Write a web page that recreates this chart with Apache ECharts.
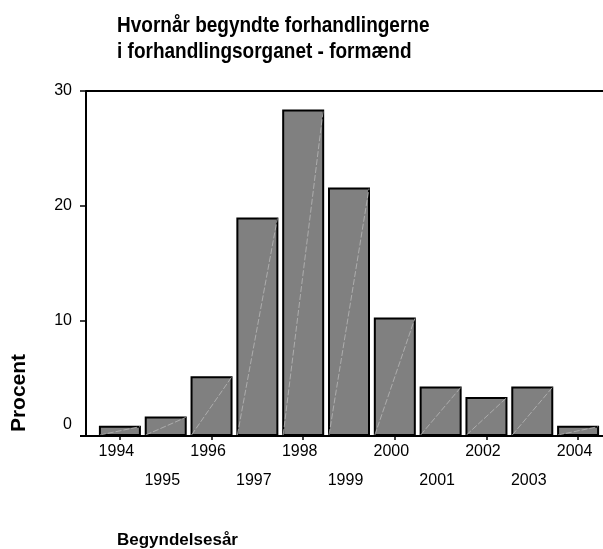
<!DOCTYPE html>
<html>
<head>
<meta charset="utf-8">
<script src="https://cdn.jsdelivr.net/npm/echarts@6/dist/echarts.min.js"></script>
<style>
html,body{margin:0;padding:0;background:#fff;}
#chart{width:603px;height:549px;}
</style>
</head>
<body>
<div id="chart"></div>
<script>
var years = ['1994','1995','1996','1997','1998','1999','2000','2001','2002','2003','2004'];
var percent = [0.9, 1.7, 5.2, 19.0, 28.4, 21.6, 10.3, 4.3, 3.4, 4.3, 0.9];
var yTicks = [0, 10, 20, 30];
var titleLines = ['Hvornår begyndte forhandlingerne', 'i forhandlingsorganet - formænd'];
var yName = 'Procent';
var xName = 'Begyndelsesår';

var FONT = 'Liberation Sans, Arial, sans-serif';
var chart = echarts.init(document.getElementById('chart'), null, {renderer: 'canvas'});

var option = {
  animation: false,
  backgroundColor: '#ffffff',
  grid: {left: 97, right: 2, top: 91, bottom: 113, containLabel: false},
  xAxis: [{
    type: 'category', data: years, position: 'bottom',
    axisLine: {show: false},
    axisTick: {show: true, alignWithLabel: true, length: 4, lineStyle: {color: '#000', width: 1.5}},
    axisLabel: {
      interval: function (i) { return i % 2 === 0; },
      margin: 8, fontFamily: FONT, fontSize: 16, color: '#000', padding: [0, 7, 0, 0]
    },
    splitLine: {show: false}
  }, {
    type: 'category', data: years, position: 'bottom',
    axisLine: {show: false}, axisTick: {show: false},
    axisLabel: {
      interval: function (i) { return i % 2 === 1; },
      margin: 37, fontFamily: FONT, fontSize: 16, color: '#000', padding: [0, 7, 0, 0]
    },
    splitLine: {show: false}
  }],
  yAxis: {
    type: 'value', min: yTicks[0], max: yTicks[yTicks.length - 1], interval: 10, offset: 11,
    axisLine: {show: true, lineStyle: {color: '#000', width: 2}},
    axisTick: {show: true, length: 6, lineStyle: {color: '#000', width: 1.5}},
    axisLabel: {
      margin: 14, fontFamily: FONT, fontSize: 16, color: '#000',
      formatter: function (v) { return v === 0 ? '{z|0}' : String(v); },
      rich: {z: {fontFamily: FONT, fontSize: 16, color: '#000', padding: [0, 0, 22, 0]}}
    },
    splitLine: {show: false}
  },
  series: [{
    type: 'bar', data: percent, xAxisIndex: 0, barWidth: 42,
    itemStyle: {color: '#808080', borderColor: '#000', borderWidth: 2}
  }, {
    type: 'custom', xAxisIndex: 0, data: percent.map(function (v, i) { return [i, v]; }),
    renderItem: function (params, api) {
      var top = api.coord([api.value(0), api.value(1)]);
      var base = api.coord([api.value(0), 0]);
      var half = 20;
      return {
        type: 'line',
        shape: {x1: base[0] - half, y1: base[1] - 1, x2: top[0] + half, y2: top[1] + 1},
        style: {stroke: '#b8b8b8', lineWidth: 0.8, lineDash: [6, 2]},
        silent: true
      };
    },
    z: 3
  }]
};
chart.setOption(option);

var y0 = chart.convertToPixel({yAxisIndex: 0}, 0);
var y30 = chart.convertToPixel({yAxisIndex: 0}, 30);
chart.setOption({
  graphic: [
    {type: 'line', shape: {x1: 80, y1: y0, x2: 603, y2: y0}, style: {stroke: '#000', lineWidth: 2}, z: 10},
    {type: 'line', shape: {x1: 86, y1: y30, x2: 603, y2: y30}, style: {stroke: '#000', lineWidth: 2}, z: 10},
    {type: 'text', x: 117, y: 26.5, scaleY: 1.12,
      style: {text: titleLines[0], fontFamily: FONT, fontSize: 19, fontWeight: 'bold', fill: '#000', align: 'left', verticalAlign: 'middle'}},
    {type: 'text', x: 117, y: 52.5, scaleY: 1.12,
      style: {text: titleLines[1], fontFamily: FONT, fontSize: 19, fontWeight: 'bold', fill: '#000', align: 'left', verticalAlign: 'middle'}},
    {type: 'text', x: 19, y: 393, rotation: Math.PI / 2,
      style: {text: yName, fontFamily: FONT, fontSize: 21, fontWeight: 'bold', fill: '#000', align: 'center', verticalAlign: 'middle'}},
    {type: 'text', x: 117, y: 540,
      style: {text: xName, fontFamily: FONT, fontSize: 17, fontWeight: 'bold', fill: '#000', align: 'left', verticalAlign: 'middle'}}
  ]
});
</script>
</body>
</html>
